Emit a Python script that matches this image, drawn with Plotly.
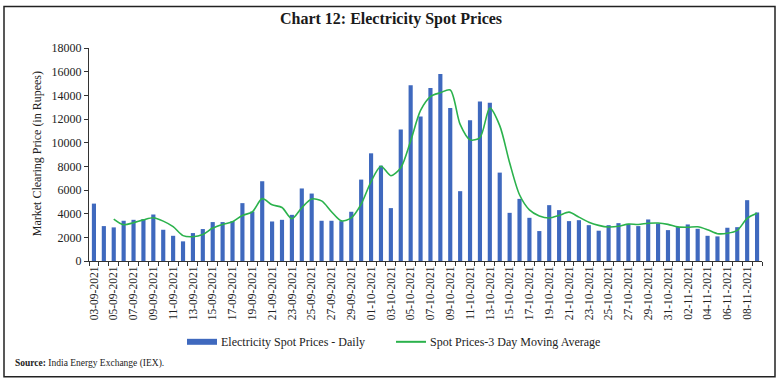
import plotly.graph_objects as go
import pandas as pd

dates = pd.date_range("2021-09-03", "2021-11-09", freq="D").strftime("%Y-%m-%d").tolist()

daily_prices = [
    4850, 2950, 2840, 3400, 3480, 3540, 3930, 2640, 2130, 1660,
    2360, 2700, 3290, 3290, 3370, 4890, 4180, 6740, 3340, 3480,
    3900, 6130, 5700, 3400, 3400, 3370, 4160, 6880, 9100, 8060,
    4470, 11120, 14850, 12220, 14630, 15810, 12920, 5900, 11900, 13480,
    13370, 7470, 4070, 5250, 3650, 2530, 4720, 4300, 3370, 3450,
    3030, 2560, 3030, 3200, 3120, 2950, 3510, 3170, 2610, 2870,
    3090, 2720, 2130, 2080, 2810, 2860, 5140, 4100,
]

moving_avg = [
    None, None, 3547, 3063, 3240, 3473, 3650, 3370, 2900, 2143,
    2050, 2240, 2783, 3093, 3317, 3850, 4147, 5270, 4753, 4520,
    3573, 4503, 5243, 5077, 4167, 3390, 3643, 4803, 6713, 8013,
    7210, 7883, 10147, 12730, 13900, 14220, 14453, 11543, 10240, 10427,
    12917, 11440, 8303, 5597, 4323, 3810, 3633, 3850, 4130, 3707,
    3283, 3013, 2873, 2930, 3117, 3090, 3193, 3210, 3097, 2883,
    2857, 2893, 2647, 2310, 2340, 2583, 3603, 4033,
]

title_text = "Chart 12: Electricity Spot Prices"
bar_name = "Electricity Spot Prices - Daily"
line_name = "Spot Prices-3 Day Moving Average"
y_title = "Market Clearing Price (in Rupees)"
source_text = "<b>Source:</b> India Energy Exchange (IEX)."
y_ticks = [0, 2000, 4000, 6000, 8000, 10000, 12000, 14000, 16000, 18000]

FONT = "Liberation Serif"
BAR_COLOR = "#3F69BE"
LINE_COLOR = "#2BB24C"

fig = go.Figure()
fig.add_trace(go.Bar(x=dates, y=daily_prices, name=bar_name, marker_color=BAR_COLOR,
                     marker_line_width=0, showlegend=False))
fig.add_trace(go.Scatter(x=dates, y=moving_avg, name=line_name, mode="lines",
                         line=dict(color=LINE_COLOR, width=1.6, shape="spline", smoothing=0.8),
                         showlegend=False))

W, H = 782, 381
L, R, T, B = 89, 20, 47.5, 120
pw = W - L - R
ph = H - T - B

def px_x(x):
    return (x - L) / pw

def px_y(y):
    return (H - B - y) / ph

fig.update_layout(
    width=W, height=H,
    margin=dict(l=L, r=R, t=T, b=B),
    paper_bgcolor="white", plot_bgcolor="white",
    font=dict(family=FONT, color="#222222"),
    bargap=0.58,
    title=dict(text="<b>" + title_text + "</b>", x=391 / W, xanchor="center",
               y=1 - 18 / H, yanchor="middle", font=dict(size=16, family=FONT, color="#1a1a1a")),
    xaxis=dict(
        type="date",
        range=["2021-09-02 12:00", "2021-11-09 12:00"],
        tick0="2021-09-03", dtick=2 * 86400000, tickformat="%d-%m-%Y",
        tickangle=-90, ticks="", ticklen=0,
        tickfont=dict(size=11.5, family=FONT, color="#222222"),
        showline=True, linecolor="#333333", linewidth=1,
        showgrid=False, zeroline=False,
        minor=dict(tick0="2021-09-02 12:00", dtick=86400000, ticks="outside",
                   ticklen=4, tickcolor="#333333", tickwidth=1, showgrid=False),
    ),
    yaxis=dict(
        range=[0, 18000], tickvals=y_ticks, ticktext=[str(v) for v in y_ticks],
        ticks="outside", ticklen=4,
        tickcolor="#333333", tickfont=dict(size=12, family=FONT, color="#222222"),
        showline=True, linecolor="#333333", linewidth=1,
        showgrid=False, zeroline=False,
    ),
)

# outer border
fig.add_shape(type="rect", xref="paper", yref="paper",
              x0=px_x(4), x1=px_x(775), y0=px_y(377), y1=px_y(6),
              line=dict(color="#222222", width=1.5), fillcolor="rgba(0,0,0,0)", layer="above")

# y-axis title
fig.add_annotation(text=y_title, xref="paper", yref="paper", x=px_x(37), y=px_y(154),
                   textangle=-90, showarrow=False, font=dict(size=12, family=FONT, color="#222222"),
                   xanchor="center", yanchor="middle")

# manual legend
fig.add_shape(type="rect", xref="paper", yref="paper",
              x0=px_x(187), x1=px_x(217), y0=px_y(345), y1=px_y(339),
              fillcolor=BAR_COLOR, line_width=0)
fig.add_annotation(text=bar_name, xref="paper", yref="paper", x=px_x(219), y=px_y(342),
                   showarrow=False, xanchor="left", yanchor="middle",
                   font=dict(size=12, family=FONT, color="#222222"))
fig.add_shape(type="line", xref="paper", yref="paper",
              x0=px_x(396), x1=px_x(426), y0=px_y(342), y1=px_y(342),
              line=dict(color=LINE_COLOR, width=2))
fig.add_annotation(text=line_name, xref="paper", yref="paper", x=px_x(428), y=px_y(342),
                   showarrow=False, xanchor="left", yanchor="middle",
                   font=dict(size=12, family=FONT, color="#222222"))

# source note
fig.add_annotation(text=source_text, xref="paper", yref="paper", x=px_x(13), y=px_y(364),
                   showarrow=False, xanchor="left", yanchor="middle",
                   font=dict(size=9.5, family=FONT, color="#222222"))

fig.write_html("out.html", config={"displayModeBar": False},
               post_script="document.body.style.margin='0';document.body.style.overflow='hidden';")
